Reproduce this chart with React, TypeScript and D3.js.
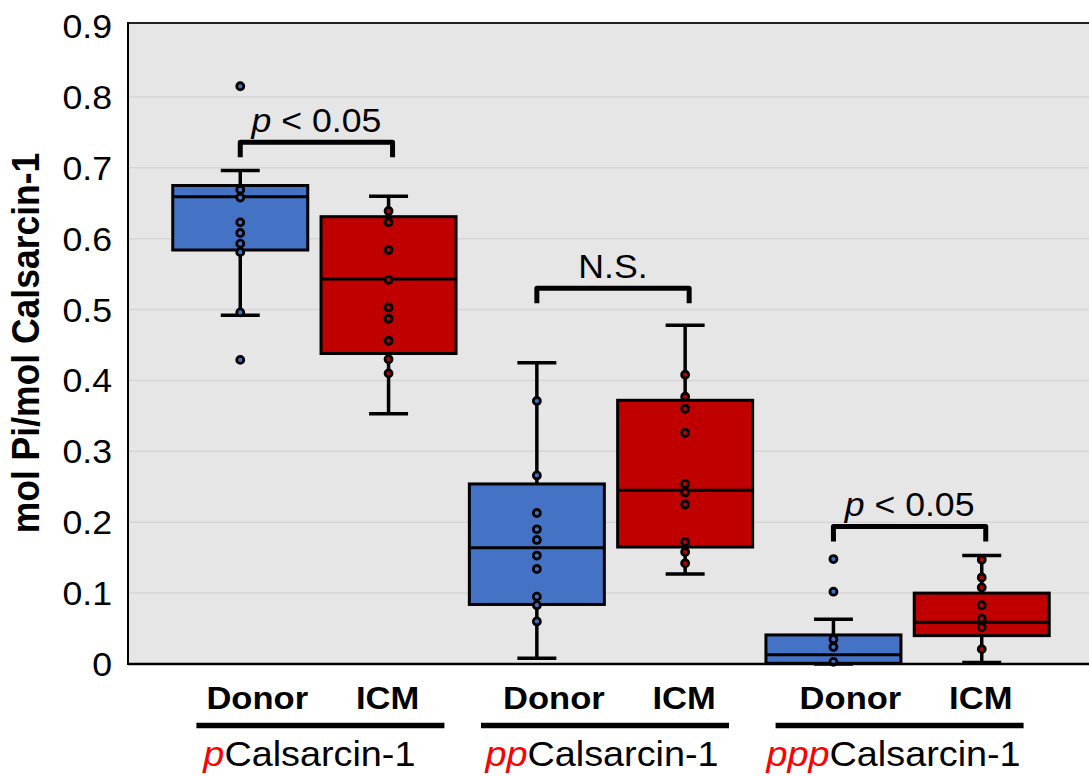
import React from "react";
import * as d3 from "d3";

// Sample categories: Donor vs ICM for each phospho-species of Calsarcin-1
const categories = ["Donor-p", "ICM-p", "Donor-pp", "ICM-pp", "Donor-ppp", "ICM-ppp"];
const conditions = ["Donor", "ICM", "Donor", "ICM", "Donor", "ICM"];
const speciesPrefix = ["p", "pp", "ppp"];
const speciesName = "Calsarcin-1";

// Box statistics: lower whisker, Q1, median, Q3, upper whisker
const whiskerLow = [0.492, 0.353, 0.008, 0.127, 0.0, 0.002];
const q1 = [0.584, 0.438, 0.084, 0.165, 0.001, 0.04];
const median = [0.659, 0.543, 0.164, 0.245, 0.013, 0.059];
const q3 = [0.675, 0.631, 0.254, 0.372, 0.041, 0.1];
const whiskerHigh = [0.696, 0.66, 0.425, 0.478, 0.063, 0.153];

// Individual measurements
const donorP = [0.815, 0.669, 0.658, 0.623, 0.608, 0.593, 0.581, 0.496, 0.429];
const icmP = [0.639, 0.623, 0.584, 0.542, 0.503, 0.487, 0.456, 0.43, 0.41];
const donorPP = [0.371, 0.266, 0.213, 0.19, 0.175, 0.153, 0.134, 0.095, 0.083, 0.06];
const icmPP = [0.408, 0.377, 0.36, 0.326, 0.254, 0.242, 0.225, 0.172, 0.158, 0.142];
const donorPPP = [0.148, 0.102, 0.035, 0.024, 0.003];
const icmPPP = [0.147, 0.122, 0.108, 0.083, 0.064, 0.052, 0.021];
const points = [donorP, icmP, donorPP, icmPP, donorPPP, icmPPP];

// Significance brackets per species
const bracketLevel = [0.736, 0.53, 0.194];
const bracketLabel = ["p < 0.05", "N.S.", "p < 0.05"];

const yTicks = [0, 0.1, 0.2, 0.3, 0.4, 0.5, 0.6, 0.7, 0.8, 0.9];

const W = 1089;
const H = 776;
const left = 128;
const top = 23;
const bottom = 664;
const BLUE = "#4472C4";
const RED = "#C00000";
const FONT = "'Liberation Sans', Arial, Helvetica, sans-serif";
const SX = 1.08;

function T({ x, y, size, anchor = "middle", weight = "normal", children, rotate = 0 }: any) {
  return (
    <text
      transform={`translate(${x},${y}) rotate(${rotate}) scale(${rotate ? 1 : SX},${rotate ? SX : 1})`}
      fontSize={size}
      fontFamily={FONT}
      fontWeight={weight}
      textAnchor={anchor}
      fill="#000"
    >
      {children}
    </text>
  );
}

export default function App() {
  const x = d3.scalePoint<string>().domain(categories).range([left, 1094]).padding(0.757);
  const y = d3.scaleLinear().domain([0, 0.9]).range([bottom, 26]);
  const boxW = 135;
  const capW = 39;

  const pairs = [0, 1, 2].map((g) => {
    const a = x(categories[2 * g])!;
    const b = x(categories[2 * g + 1])!;
    return { a, b, mid: (a + b) / 2 };
  });
  const underlineShift = [6, -6, -8];
  const labelShift = [-11, -3, -6];
  const underlineW = 248;

  return (
    <div style={{ position: "absolute", left: 0, top: 0 }}>
      <svg width={W} height={H} style={{ display: "block" }}>
        <rect x={0} y={0} width={W} height={H} fill="#fff" />
        <rect x={left} y={top} width={W - left} height={bottom - top} fill="#E6E6E6" />
        {yTicks.slice(1, -1).map((t) => (
          <line key={t} x1={left} x2={W} y1={y(t)} y2={y(t)} stroke="#D6D6D6" strokeWidth={1.5} />
        ))}
        <line x1={left} x2={W} y1={top} y2={top} stroke="#222" strokeWidth={2} />

        {/* Boxes */}
        {categories.map((c, i) => {
          const cx = x(c)!;
          const fill = i % 2 === 0 ? BLUE : RED;
          return (
            <g key={c}>
              <line x1={cx} x2={cx} y1={y(whiskerHigh[i])} y2={y(q3[i])} stroke="#000" strokeWidth={3.5} />
              <line x1={cx} x2={cx} y1={y(whiskerLow[i])} y2={y(q1[i])} stroke="#000" strokeWidth={3.5} />
              <line x1={cx - capW / 2} x2={cx + capW / 2} y1={y(whiskerHigh[i])} y2={y(whiskerHigh[i])} stroke="#000" strokeWidth={3.5} />
              <line x1={cx - capW / 2} x2={cx + capW / 2} y1={y(whiskerLow[i])} y2={y(whiskerLow[i])} stroke="#000" strokeWidth={3.5} />
              <rect
                x={cx - boxW / 2}
                y={y(q3[i])}
                width={boxW}
                height={y(q1[i]) - y(q3[i])}
                fill={fill}
                stroke="#000"
                strokeWidth={3}
              />
              <line x1={cx - boxW / 2} x2={cx + boxW / 2} y1={y(median[i])} y2={y(median[i])} stroke="#000" strokeWidth={3} />
              {points[i].map((v, k) => (
                <circle key={k} cx={cx} cy={y(v)} r={3.5} fill={fill} stroke="#000" strokeWidth={2.8} />
              ))}
            </g>
          );
        })}

        {/* Axes */}
        <line x1={left} x2={left} y1={top - 1} y2={bottom + 1} stroke="#000" strokeWidth={2} />
        <line x1={left} x2={W} y1={bottom} y2={bottom} stroke="#000" strokeWidth={2.5} />
        {yTicks.map((t) => (
          <T key={t} x={112} y={y(t) + 12} size={33} anchor="end">
            {String(t)}
          </T>
        ))}
        <T x={39} y={343} size={35.5} weight="bold" rotate={-90}>
          mol Pi/mol Calsarcin-1
        </T>

        {/* Significance brackets */}
        {pairs.map((p, g) => {
          const by = y(bracketLevel[g]);
          const legs = 15;
          const lbl = bracketLabel[g];
          return (
            <g key={g}>
              <path
                d={`M${p.a},${by + legs} L${p.a},${by} L${p.b + 4},${by} L${p.b + 4},${by + legs}`}
                fill="none"
                stroke="#000"
                strokeWidth={5}
                strokeLinejoin="round"
              />
              {lbl.startsWith("p") ? (
                <text
                  transform={`translate(${(p.a + p.b + 4) / 2},${by - 10}) scale(${SX},1)`}
                  fontSize={33}
                  fontFamily={FONT}
                  textAnchor="middle"
                >
                  <tspan fontStyle="italic">p</tspan>
                  {lbl.slice(1)}
                </text>
              ) : (
                <T x={(p.a + p.b + 4) / 2} y={by - 10} size={33}>
                  {lbl}
                </T>
              )}
            </g>
          );
        })}

        {/* Category labels */}
        {categories.map((c, i) => (
          <T key={c} x={x(c)! + (i % 2 === 0 ? 17 : -1)} y={709} size={32} weight="bold">
            {conditions[i]}
          </T>
        ))}
        {pairs.map((p, g) => {
          const uc = p.mid + underlineShift[g];
          return (
            <g key={g}>
              <line x1={uc - underlineW / 2} x2={uc + underlineW / 2} y1={725.5} y2={725.5} stroke="#000" strokeWidth={5.5} />
              <text
                transform={`translate(${uc + labelShift[g]},766) scale(${SX},1)`}
                fontSize={35}
                fontFamily={FONT}
                textAnchor="middle"
              >
                <tspan fill="#FF0000" fontStyle="italic">
                  {speciesPrefix[g]}
                </tspan>
                <tspan fill="#000">{speciesName}</tspan>
              </text>
            </g>
          );
        })}
      </svg>
    </div>
  );
}
